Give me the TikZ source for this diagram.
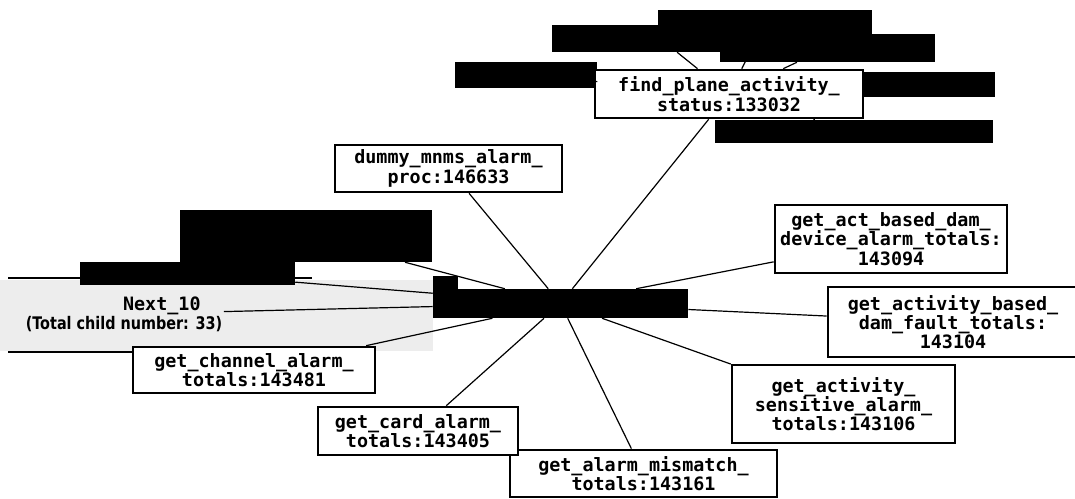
\documentclass[tikz,border=0pt]{standalone}
\usepackage{fontspec}
\newfontfamily\boxfont{DejaVu Sans Mono}
\newfontfamily\notefont{DejaVu Sans}
\newlength\px
\setlength\px{0.75pt}
\tikzset{
  leaf/.style={draw, line width=2pt, fill=white, align=center, inner sep=1pt,
    font=\boxfont\bfseries\fontsize{13.8}{14.5}\selectfont},
  redact/.style={fill=black, inner sep=0pt},
  every edge/.style={draw, line width=0.9pt}
}

\begin{document}
\begin{tikzpicture}[x=0.75pt, y=-0.75pt]
\useasboundingbox (0,0) rectangle (1075,499);

  % paging strip
  \fill[gray!14] (0,280) rectangle (433,351);
  \draw[line width=2pt] (8,278) -- (312,278);
  \draw[line width=2pt] (8,352) -- (362,352);

  \node[redact, minimum width=255\px, minimum height=29\px] (hub) at (560.5,303.5) {};
  \fill (433,276) rectangle (458,290);

  % top cluster
  \node[redact, minimum width=216\px, minimum height=27\px] (r_b1) at (660,38.5) {};
  \node[redact, minimum width=214\px, minimum height=25\px] (r_a) at (765,22.5) {};
  \node[redact, minimum width=215\px, minimum height=28\px] (r_b2) at (827.5,48) {};
  \node[redact, minimum width=142\px, minimum height=26\px] (r_c) at (526,75) {};
  \node[redact, minimum width=132\px, minimum height=25\px] (r_d) at (929,84.5) {};
  \node[redact, minimum width=278\px, minimum height=23\px] (r_e) at (854,131.5) {};
  \node[leaf, minimum width=268\px, minimum height=48\px] (find) at (729,94)
    {find\_plane\_activity\_\\status:133032} edge (hub);
    \path (find) edge (r_a) edge (r_b1) edge (r_b2) edge (r_c) edge (r_d) edge (r_e);

  % children of the hub
  \node[leaf, minimum width=227\px, minimum height=47\px] (dummy) at (448.5,168.5)
    {dummy\_mnms\_alarm\_\\proc:146633} edge (hub);
  \node[leaf, minimum width=232\px, minimum height=68\px] (act_dev) at (891,239)
    {get\_act\_based\_dam\_\\device\_alarm\_totals:\\143094} edge (hub);
  \node[leaf, minimum width=250\px, minimum height=70\px] (act_flt) at (953,322)
    {get\_activity\_based\_\\dam\_fault\_totals:\\143104} edge (hub);
  \node[leaf, minimum width=223\px, minimum height=78\px] (sens) at (843.5,404)
    {get\_activity\_\\sensitive\_alarm\_\\totals:143106} edge (hub);
  \node[leaf, minimum width=267\px, minimum height=47\px] (mism) at (643.5,473.5)
    {get\_alarm\_mismatch\_\\totals:143161} edge (hub);
  \node[leaf, minimum width=200\px, minimum height=48\px] (card) at (418,431)
    {get\_card\_alarm\_\\totals:143405} edge (hub);
  \node[leaf, minimum width=242\px, minimum height=46\px] (chan) at (254,370)
    {get\_channel\_alarm\_\\totals:143481} edge (hub);

  \node[redact, minimum width=252\px, minimum height=52\px] (r_f) at (306,236) {} edge (hub);
  \node[redact, minimum width=215\px, minimum height=23\px] (r_g) at (187.5,273.5) {} edge (hub);

  \node[align=left, inner sep=1pt, font=\boxfont\bfseries\fontsize{13.8}{13}\selectfont] (next) at (124,314)
    {\hspace*{73pt}Next\_10\\\scalebox{0.83}[1]{\notefont\bfseries\fontsize{13}{13}\selectfont (Total child number: 33)}} edge (hub);

\end{tikzpicture}
\end{document}
